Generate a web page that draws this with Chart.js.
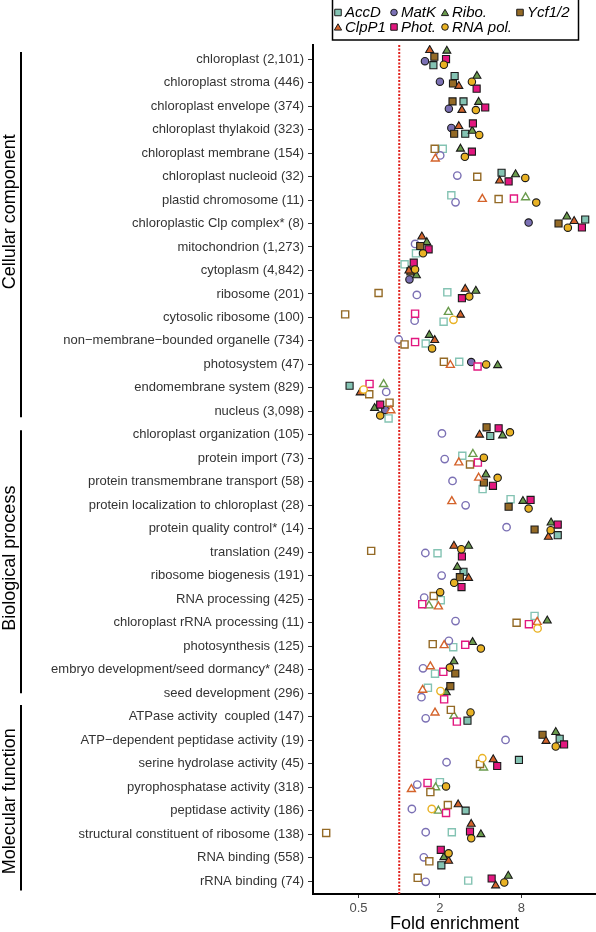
<!DOCTYPE html>
<html>
<head>
<meta charset="utf-8">
<script src="https://cdn.jsdelivr.net/npm/chart.js@4.4.1/dist/chart.umd.min.js"></script>
<style>
  html, body { margin: 0; padding: 0; background: #fff; }
  canvas { display: block; }
</style>
</head>
<body>
<canvas id="chart" width="596" height="932"></canvas>
<script>
// GO terms, top to bottom
const categories = [
  'chloroplast (2,101)', 'chloroplast stroma (446)', 'chloroplast envelope (374)',
  'chloroplast thylakoid (323)', 'chloroplast membrane (154)', 'chloroplast nucleoid (32)',
  'plastid chromosome (11)', 'chloroplastic Clp complex* (8)', 'mitochondrion (1,273)',
  'cytoplasm (4,842)', 'ribosome (201)', 'cytosolic ribosome (100)',
  'non\u2212membrane\u2212bounded organelle (734)', 'photosystem (47)', 'endomembrane system (829)',
  'nucleus (3,098)',
  'chloroplast organization (105)', 'protein import (73)', 'protein transmembrane transport (58)',
  'protein localization to chloroplast (28)', 'protein quality control* (14)', 'translation (249)',
  'ribosome biogenesis (191)', 'RNA processing (425)', 'chloroplast rRNA processing (11)',
  'photosynthesis (125)', 'embryo development/seed dormancy* (248)', 'seed development (296)',
  'ATPase activity  coupled (147)', 'ATP\u2212dependent peptidase activity (19)', 'serine hydrolase activity (45)',
  'pyrophosphatase activity (318)', 'peptidase activity (186)', 'structural constituent of ribosome (138)',
  'RNA binding (558)', 'rRNA binding (74)'
];

const groupNames = ['Cellular component', 'Biological process', 'Molecular function'];
// bracket extent and label centre, in row units
const groupSpans = [[-0.3, 15.25], [15.8, 27.0], [27.5, 35.4]];
const groupCenters = [6.5, 21.25, 31.6];

const xTicks = [0.5, 2, 8];

const seriesNames = ['AccD', 'MatK', 'Ribo.', 'Ycf1/2', 'ClpP1', 'Phot.', 'RNA pol.'];

// fold enrichment per term
const accdFold  = [1.79, 2.57, 2.99, 3.08, 2.1, 5.72, 2.43, 23.8, 1.33, 1.095, 2.27, 2.13, 1.57, 2.78, 0.429, 0.834,
  4.72, 2.93, 4.14, 6.67, 14.9, 1.92, 2.99, 2.03, 10.04, 2.51, 1.84, 1.63, 3.2, 15.4, 7.69, 2.0, 3.1, 2.45, 2.05, 3.24];
const matkFold  = [1.55, 2.0, 2.33, 2.43, 2.01, 2.69, 2.61, 9.07, 1.31, 1.19, 1.35, 1.3, 0.99, 3.41, 0.801, 0.788,
  2.07, 2.17, 2.48, 3.1, 6.23, 1.56, 2.06, 1.53, 2.61, 2.33, 1.5, 1.46, 1.57, 6.12, 2.24, 1.36, 1.24, 1.57, 1.52, 1.57];
const riboFold  = [2.25, 3.76, 3.87, 3.47, 2.84, 7.26, 8.61, 17.4, 1.6, 1.34, 3.69, 2.31, 1.67, 5.35, 0.766, 0.657,
  5.82, 3.51, 4.38, 8.23, 13.3, 3.26, 2.69, 1.66, 12.46, 3.49, 2.54, 2.23, 2.54, 14.4, 4.21, 1.86, 1.95, 4.02, 2.14, 6.41];
const ycfFold   = [1.82, 2.5, 2.48, 2.55, 1.83, 3.78, 5.44, 15.1, 1.43, 1.21, 0.703, 0.398, 1.095, 2.14, 0.6, 0.848,
  4.43, 3.34, 4.23, 6.45, 10.04, 0.62, 2.81, 1.8, 7.39, 1.77, 2.6, 2.39, 2.41, 11.5, 3.96, 1.7, 2.29, 0.288, 1.67, 1.37];
const clpFold   = [1.68, 2.76, 2.91, 2.76, 1.85, 5.53, 4.12, 19.7, 1.47, 1.18, 3.08, 2.84, 1.83, 2.39, 0.514, 0.868,
  3.93, 2.76, 3.87, 2.45, 12.7, 2.54, 3.26, 1.95, 10.5, 2.15, 1.7, 1.49, 1.84, 12.2, 4.96, 1.23, 2.73, 3.41, 2.32, 5.17];
const photFold  = [2.22, 3.74, 4.33, 3.51, 3.45, 6.45, 7.06, 22.5, 1.65, 1.28, 2.91, 1.31, 1.31, 3.8, 0.603, 0.723,
  5.44, 3.82, 4.94, 9.38, 14.9, 2.91, 2.89, 1.48, 9.12, 3.08, 2.12, 2.15, 2.67, 16.6, 5.31, 1.62, 2.22, 3.34, 2.03, 4.83];
const rnapFold  = [2.14, 3.45, 3.69, 3.91, 3.06, 8.57, 10.33, 17.7, 1.5, 1.31, 3.3, 2.52, 1.75, 4.4, 0.545, 0.723,
  6.6, 4.23, 5.35, 9.07, 13.2, 2.88, 2.55, 2.01, 10.57, 4.02, 2.37, 2.02, 3.37, 14.4, 4.12, 2.22, 1.74, 3.41, 2.32, 5.99];

// 1 = significant (filled), 0 = not significant (open)
const accdSig = [1,1,1,1,0,1,0,1,0,0,0,0,0,0,1,0, 1,0,0,0,1,0,1,0,0,0,0,0, 1,1,1,0,1,0,1,0];
const matkSig = [1,1,1,1,0,0,0,1,0,1,0,0,0,1,0,1, 0,0,0,0,0,0,0,0,0,0,0,0, 0,0,0,0,0,0,0,0];
const riboSig = [1,1,1,1,1,1,0,1,1,1,1,0,1,1,0,1, 1,0,1,1,1,1,1,0,1,1,1,1, 0,1,0,0,0,1,1,1];
const ycfSig  = [1,1,1,1,0,0,0,1,1,1,0,0,0,0,0,0, 1,0,1,1,1,0,1,0,0,0,1,1, 0,1,0,0,0,0,0,0];
const clpSig  = [1,1,1,1,0,1,0,1,1,1,1,1,1,0,1,0, 1,0,0,0,1,1,1,0,0,0,0,0, 0,1,1,0,1,1,1,1];
const photSig = [1,1,1,1,1,1,0,1,1,1,1,0,0,0,0,1, 1,0,1,1,1,1,1,0,0,0,0,0, 0,1,1,0,0,1,1,1];
const rnapSig = [1,1,1,1,1,1,1,1,1,1,1,0,1,1,0,1, 1,1,1,1,1,1,1,1,0,1,1,0, 1,1,0,1,0,1,1,1];

// vertical jitter, in row units
const accdJit = [0.26,-0.28,-0.2,0.18,-0.18,-0.16,-0.2,-0.17,0.27,-0.26,-0.07,0.18,0.11,-0.11,-0.09,0.3,
  0.05,-0.11,0.31,-0.26,0.27,0.04,-0.17,0.04,-0.29,0.04,0.17,-0.23,0.17,-0.06,-0.16,-0.21,0,-0.08,0.33,-0.02];
const matkJit = [0.09,-0.04,0.11,-0.07,0.1,-0.04,0.1,-0.04,-0.13,0.38,0.04,0.14,-0.06,-0.1,0.17,-0.06,
  -0.06,0.03,-0.04,0,-0.07,0.03,-0.01,-0.07,-0.07,-0.23,-0.06,0.17,0.07,-0.01,-0.06,-0.11,-0.07,-0.08,-0.01,0.03];
const riboJit = [-0.35,-0.28,-0.17,0.06,-0.18,-0.09,-0.11,-0.29,-0.2,0.21,-0.13,-0.23,-0.25,0.04,-0.16,-0.14,
  0.03,-0.18,-0.31,-0.18,-0.26,-0.27,-0.37,0.27,-0.09,-0.17,-0.35,-0.03,-0.03,-0.34,0.17,0.01,0.01,0.01,-0.01,-0.22];
const ycfJit  = [-0.1,0.04,-0.2,0.18,-0.18,0.01,-0.04,0,-0.04,0.04,-0.04,-0.13,0.15,-0.11,0.27,-0.37,
  -0.32,0.26,0.03,0.06,0.03,-0.06,0.06,-0.14,0,-0.09,0.16,-0.3,-0.29,-0.23,0.01,0.21,-0.24,-0.05,0.16,-0.14];
const clpJit  = [-0.38,0.15,0.17,-0.14,0.24,0.18,-0.04,-0.1,-0.44,0.01,-0.21,-0.11,-0.03,0.03,0.2,-0.04,
  0,0.18,-0.17,-0.17,0.35,-0.27,0.1,0.31,-0.03,-0.04,-0.14,-0.14,-0.17,0.04,-0.18,0.09,-0.26,-0.43,0.14,0.19];
const photJit = [0,0.26,0.06,-0.26,-0.06,0.21,-0.06,0.17,0.1,-0.33,0.18,-0.16,0.05,0.09,-0.17,-0.29,
  -0.28,0.18,0.17,-0.23,-0.18,0.18,0.48,0.21,0.06,-0.06,0.09,0.26,0.21,0.18,0.1,-0.18,0.1,-0.11,-0.33,-0.11];
const rnapJit = [0.24,-0.04,0.17,0.23,0.16,0.06,0.11,0.18,0.27,-0.04,0.11,0.1,0.32,0,0.07,0.18,
  -0.11,-0.03,-0.17,0.14,0.06,-0.13,0.3,-0.3,0.24,0.1,-0.09,-0.09,-0.18,0.27,-0.23,-0.03,-0.07,0.18,-0.18,0.06];

const seriesFold = [accdFold, matkFold, riboFold, ycfFold, clpFold, photFold, rnapFold];
const seriesSig = [accdSig, matkSig, riboSig, ycfSig, clpSig, photSig, rnapSig];
const seriesJit = [accdJit, matkJit, riboJit, ycfJit, clpJit, photJit, rnapJit];

const seriesColors = ['#84c3b3', '#7b70b4', '#6a9b4d', '#946a26', '#d4632b', '#e2177f', '#e9b224'];
const seriesShapes = ['rect', 'circle', 'triangle', 'rect', 'triangle', 'rect', 'circle'];
const shapeRadius = { rect: 5, circle: 3.7, triangle: 4.6 };

Chart.defaults.font.family = '"Liberation Sans", Arial, Helvetica, sans-serif';

const datasets = seriesNames.map((name, s) => ({
    label: name,
    order: 7 - s,
    data: seriesFold[s].map((v, i) => ({ x: v, y: i + seriesJit[s][i] })),
    pointStyle: seriesShapes[s],
    pointRadius: shapeRadius[seriesShapes[s]],
    pointBackgroundColor: ctx => seriesSig[s][ctx.dataIndex] ? seriesColors[s] : '#ffffff',
    pointBorderColor: ctx => seriesSig[s][ctx.dataIndex] ? '#1a1a1a' : seriesColors[s],
    pointBorderWidth: ctx => seriesSig[s][ctx.dataIndex] ? 1.1 : 1.4,
    showLine: false
}));

// reference line, group brackets and the boxed legend
const decor = {
    id: 'decor',
    beforeDatasetsDraw(chart) {
        const { ctx, chartArea, scales } = chart;
        const x = scales.x.getPixelForValue(1);
        ctx.save();
        ctx.strokeStyle = '#e0201c';
        ctx.lineWidth = 2;
        ctx.setLineDash([2, 1.5]);
        ctx.beginPath();
        ctx.moveTo(x, chartArea.top);
        ctx.lineTo(x, chartArea.bottom);
        ctx.stroke();
        ctx.restore();
    },
    afterDraw(chart) {
        const { ctx, scales } = chart;
        const y = scales.y;
        ctx.save();

        // group brackets
        ctx.strokeStyle = '#000';
        ctx.lineWidth = 2;
        groupSpans.forEach((span, g) => {
            ctx.beginPath();
            ctx.moveTo(21, y.getPixelForValue(span[0]));
            ctx.lineTo(21, y.getPixelForValue(span[1]));
            ctx.stroke();

            ctx.save();
            ctx.translate(10, y.getPixelForValue(groupCenters[g]));
            ctx.rotate(-Math.PI / 2);
            ctx.fillStyle = '#000';
            ctx.font = '18px "Liberation Sans", Arial, sans-serif';
            ctx.textAlign = 'center';
            ctx.textBaseline = 'middle';
            ctx.fillText(groupNames[g], 0, 0);
            ctx.restore();
        });

        // legend
        ctx.lineWidth = 1.5;
        ctx.strokeStyle = '#000';
        ctx.strokeRect(332.5, -1, 246, 41);
        const cols = [338, 394, 445, 520];
        const rows = [12.5, 27];
        ctx.font = 'italic 15px "Liberation Sans", Arial, sans-serif';
        ctx.textBaseline = 'middle';
        ctx.textAlign = 'left';
        seriesNames.forEach((name, s) => {
            const cx = cols[s % 4];
            const cy = rows[Math.floor(s / 4)];
            ctx.fillStyle = seriesColors[s];
            ctx.strokeStyle = '#1a1a1a';
            ctx.lineWidth = 1;
            Chart.helpers.drawPoint(ctx, {
                pointStyle: seriesShapes[s],
                radius: shapeRadius[seriesShapes[s]] - 0.4,
                rotation: 0,
                borderWidth: 1
            }, cx, cy + (seriesShapes[s] === 'triangle' ? 1 : 0));
            ctx.fillStyle = '#000';
            ctx.fillText(name, cx + 7, cy + 0.5);
        });
        ctx.restore();
    }
};

new Chart(document.getElementById('chart'), {
    type: 'scatter',
    data: { datasets },
    options: {
        responsive: false,
        animation: false,
        events: [],
        layout: { autoPadding: false, padding: { top: 45, left: 0, right: 0, bottom: 0 } },
        plugins: {
            legend: { display: false },
            tooltip: { enabled: false }
        },
        scales: {
            x: {
                type: 'logarithmic',
                bounds: 'data',
                min: 0.23,
                max: 28.6,
                afterBuildTicks: s => { s.ticks = xTicks.map(v => ({ value: v })); },
                afterFit: s => { s.height = 38; },
                ticks: {
                    callback: v => String(v),
                    color: '#4d4d4d',
                    font: { size: 13 },
                    padding: 3,
                    autoSkip: false,
                    maxRotation: 0
                },
                grid: { drawOnChartArea: false, tickLength: 4, color: '#333' },
                border: { color: '#000', width: 2 },
                title: {
                    display: true,
                    text: 'Fold enrichment',
                    color: '#000',
                    font: { size: 18 },
                    padding: { top: 0, bottom: -3 }
                }
            },
            y: {
                type: 'linear',
                bounds: 'data',
                min: -0.6,
                max: 35.55,
                reverse: true,
                afterBuildTicks: s => { s.ticks = categories.map((_, i) => ({ value: i })); },
                afterFit: s => { s.width = 313; },
                ticks: {
                    callback: v => categories[v],
                    color: '#333',
                    font: { size: 13 },
                    padding: 4,
                    autoSkip: false
                },
                grid: { drawOnChartArea: false, tickLength: 5, color: '#333' },
                border: { color: '#000', width: 2 }
            }
        }
    },
    plugins: [decor]
});
</script>
</body>
</html>
